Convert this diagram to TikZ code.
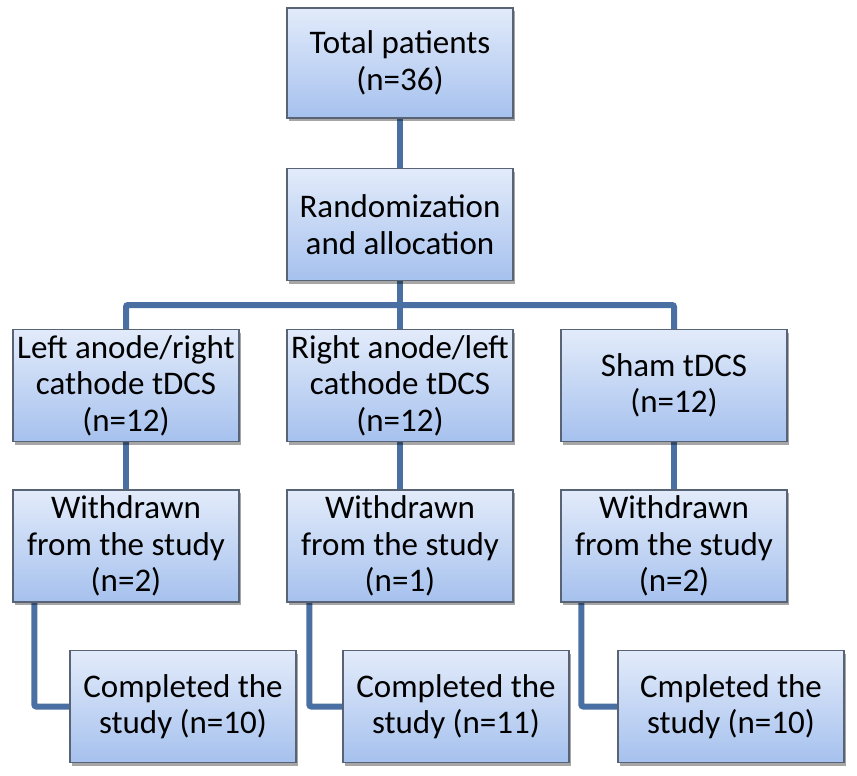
\documentclass[tikz,border=0pt]{standalone}
\usepackage{fontspec}
\setmainfont{Carlito}
\usetikzlibrary{shadows,backgrounds}
\definecolor{boxtop}{RGB}{226,235,250}
\definecolor{boxbot}{RGB}{166,193,238}
\definecolor{boxline}{RGB}{88,100,118}
\definecolor{linkblue}{RGB}{74,112,163}
\tikzset{
  box/.style={draw=boxline, line width=1.4pt, top color=boxtop, bottom color=boxbot,
    minimum width=226pt, minimum height=112pt, inner sep=0pt, align=center,
    font=\fontsize{33}{36.5}\selectfont,
    drop shadow={shadow xshift=2pt, shadow yshift=-3pt, fill=black, opacity=0.35}},
  link/.style={draw=linkblue, line width=6pt, rounded corners=2pt}
}
\begin{document}
\begin{tikzpicture}[x=1pt, y=-1pt]
\useasboundingbox (0,0) rectangle (857,776);
\node[box, minimum height=110pt] (tot) at (400,63) {Total patients\\(n=36)};
\node[box] (rand) at (400,224.5) {Randomization\\and allocation};
\node[box] (left) at (126,385.5) {Left anode/right\\cathode tDCS\\(n=12)};
\node[box] (mid) at (400,385.5) {Right anode/left\\cathode tDCS\\(n=12)};
\node[box] (sham) at (674,385.5) {Sham tDCS\\(n=12)};
\node[box] (wleft) at (126,546) {Withdrawn\\from the study\\(n=2)};
\node[box] (wmid) at (400,546) {Withdrawn\\from the study\\(n=1)};
\node[box] (wsham) at (674,546) {Withdrawn\\from the study\\(n=2)};
\node[box] (cleft) at (183,706.5) {Completed the\\study (n=10)};
\node[box] (cmid) at (456,706.5) {Completed the\\study (n=11)};
\node[box] (csham) at (731,706.5) {Cmpleted the\\study (n=10)};
\coordinate (bar) at (400,305);
\begin{scope}[on background layer]
\fill[white] (0,0) rectangle (857,776);
\draw[link] (tot) -- (rand);
\draw[link] (rand) -- (bar);
\draw[link] (left.north) |- (bar) -| (sham.north);
\draw[link] (bar) -- (mid.north);
\draw[link] (left) -- (wleft);
\draw[link] (mid) -- (wmid);
\draw[link] (sham) -- (wsham);
\draw[link] ([xshift=22pt]wleft.south west) |- (cleft.west);
\draw[link] ([xshift=23pt]wmid.south west) |- (cmid.west);
\draw[link] ([xshift=21pt]wsham.south west) |- (csham.west);
\end{scope}
\end{tikzpicture}
\end{document}
